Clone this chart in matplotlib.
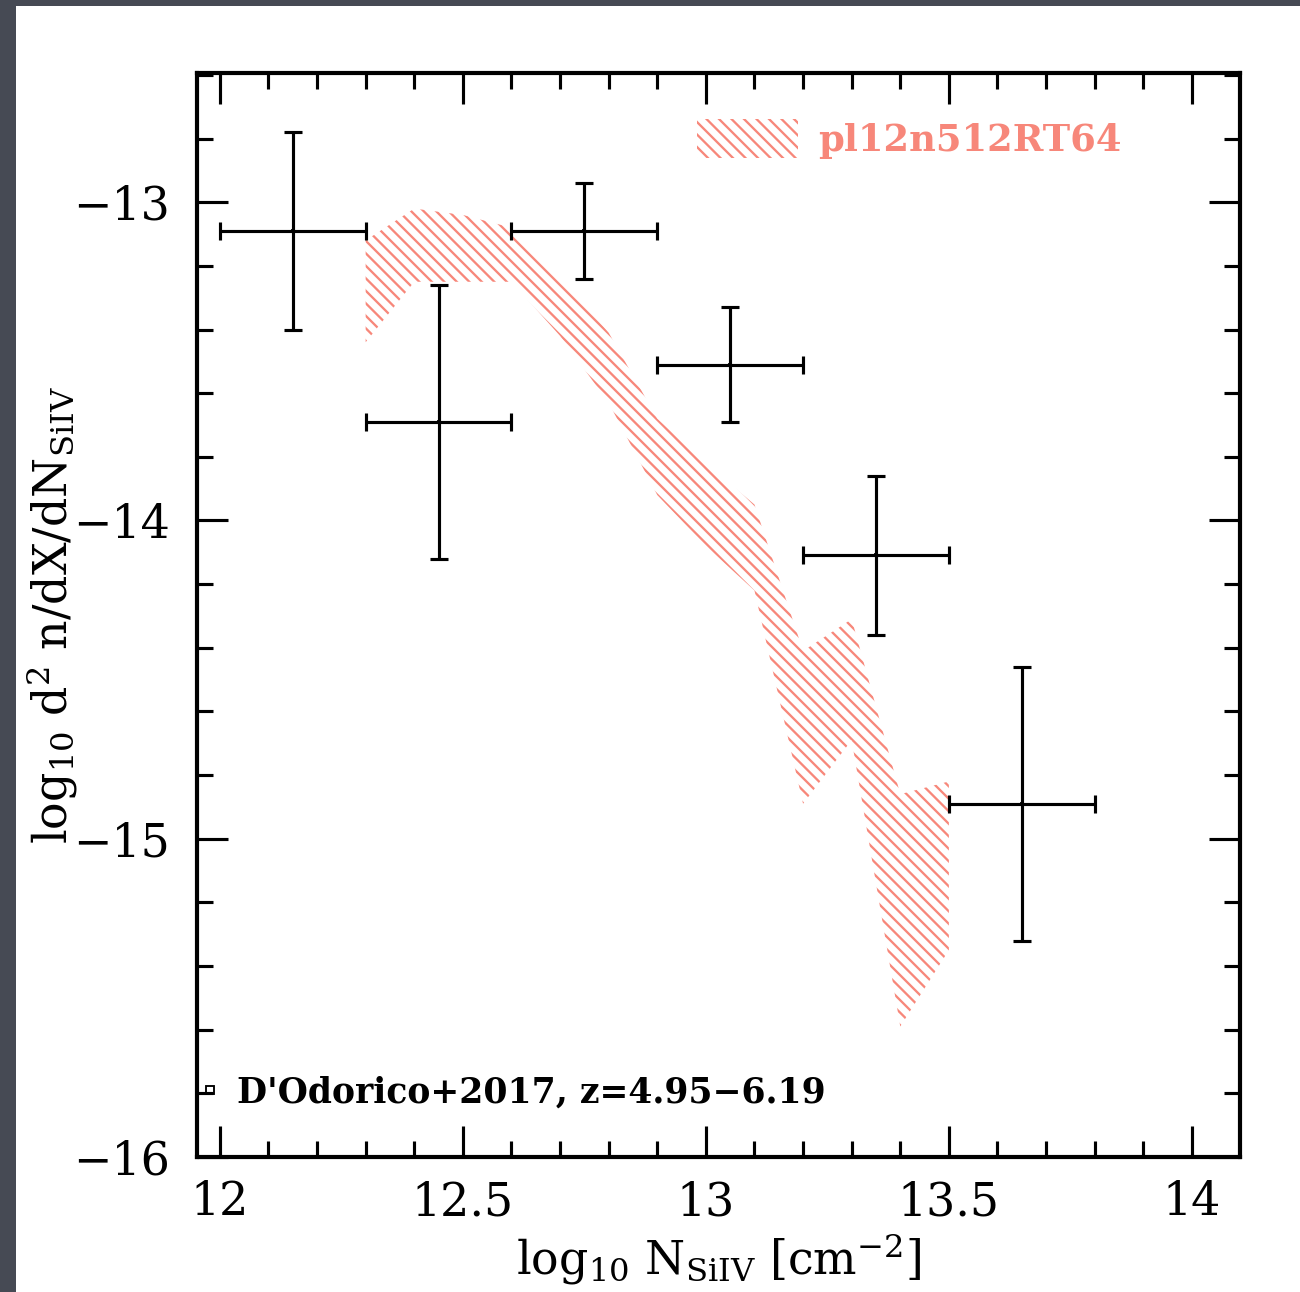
import matplotlib
matplotlib.use('Agg')
import matplotlib.pyplot as plt
from matplotlib.ticker import MultipleLocator, FixedLocator, FuncFormatter
from matplotlib.patches import Rectangle

# ---------------- data ----------------
# D'Odorico+2017 observations (SiIV column density distribution)
obs_logN = [12.15, 12.45, 12.75, 13.05, 13.35, 13.65]
obs_logN_err = [0.15, 0.15, 0.15, 0.15, 0.15, 0.15]
obs_logf = [-13.09, -13.69, -13.09, -13.51, -14.11, -14.89]
obs_logf_err = [0.31, 0.43, 0.15, 0.18, 0.25, 0.43]
obs_label = "D'Odorico+2017, z=4.95\u22126.19"

# Simulation band (pl12n512RT64)
sim_logN = [12.3, 12.4, 12.5, 12.6, 12.7, 12.8, 12.9, 13.0, 13.1, 13.2, 13.3, 13.4, 13.5]
sim_upper = [-13.12, -13.02, -13.04, -13.08, -13.23, -13.41, -13.68, -13.82, -13.95,
             -14.41, -14.31, -14.86, -14.82]
sim_lower = [-13.44, -13.25, -13.25, -13.25, -13.42, -13.63, -13.92, -14.08, -14.22,
             -14.89, -14.69, -15.59, -15.35]
sim_label = 'pl12n512RT64'

x_ticks = [12, 12.5, 13, 13.5, 14]
y_ticks = [-16, -15, -14, -13]

# ---------------- style ----------------
plt.rcParams['font.family'] = ['DejaVu Serif']
plt.rcParams['mathtext.fontset'] = 'dejavuserif'
plt.rcParams['hatch.linewidth'] = 1.1
salmon = '#f7877a'

W, H, DPI = 1300, 1292, 150
fig = plt.figure(figsize=(W / DPI, H / DPI), dpi=DPI)
fig.patch.set_facecolor('#464a54')
fig.patches.append(Rectangle((16 / W, 0), 1, (H - 6) / H, transform=fig.transFigure,
                             facecolor='white', edgecolor='none', zorder=-10))

ax = fig.add_axes([197 / W, 135 / H, (1240 - 197) / W, (1157 - 73) / H])
ax.set_facecolor('white')

# simulation band
band = ax.fill_between(sim_logN, sim_lower, sim_upper, facecolor='none', edgecolor=salmon,
                       hatch='\\\\\\\\', linewidth=0, label=sim_label, zorder=1)

# observations
ax.errorbar(obs_logN, obs_logf, xerr=obs_logN_err, yerr=obs_logf_err, fmt='none',
            ecolor='black', elinewidth=1.5, capsize=4.3, capthick=1.5, zorder=3)
obs_pts, = ax.plot(obs_logN, obs_logf, 's', ms=1.2, mfc='none', mec='black', mew=0.9,
                   label=obs_label, zorder=2)

ax.set_xlim(11.953, 14.099)
ax.set_ylim(-16.0, -12.594)

ax.xaxis.set_major_locator(FixedLocator(x_ticks))
ax.xaxis.set_minor_locator(MultipleLocator(0.1))
ax.yaxis.set_major_locator(FixedLocator(y_ticks))
ax.yaxis.set_minor_locator(MultipleLocator(0.2))
fmt = FuncFormatter(lambda v, p: f'{v:g}'.replace('-', '\u2212'))
ax.xaxis.set_major_formatter(fmt)
ax.yaxis.set_major_formatter(fmt)

ax.tick_params(which='both', direction='in', top=True, right=True, color='black')
ax.tick_params(which='major', length=15, width=1.5, labelsize=22)
ax.tick_params(which='minor', length=7.7, width=1.5)
ax.tick_params(axis='x', which='major', pad=11)
ax.tick_params(axis='y', which='major', pad=13)
for s in ax.spines.values():
    s.set_linewidth(2.0)

ax.set_xlabel(r'log$_{10}$ N$_{\rm SiIV}$ [cm$^{-2}$]', fontsize=22)
ax.set_ylabel(r'log$_{10}$ d$^2$ n/dX/dN$_{\rm SiIV}$', fontsize=22)
ax.xaxis.set_label_coords(0.5, -0.069)
ax.yaxis.set_label_coords(-0.112, 0.5)

# legends
leg1 = ax.legend(handles=[band], loc='upper left',
                 bbox_to_anchor=(0.479, 0.9576), frameon=False, borderpad=0,
                 borderaxespad=0, handlelength=2.75, handleheight=1.25,
                 handletextpad=0.55, labelcolor=salmon,
                 prop={'family': 'DejaVu Serif', 'weight': 'bold', 'size': 17.7})
ax.add_artist(leg1)
leg2 = ax.legend(handles=[obs_pts], loc='lower left',
                 bbox_to_anchor=(0.0048, 0.044), frameon=False, borderpad=0,
                 borderaxespad=0, handlelength=0.45, handletextpad=0.55,
                 markerscale=3.5,
                 prop={'family': 'DejaVu Serif', 'weight': 'bold', 'size': 16.6})

fig.savefig('out.png', dpi=DPI)
